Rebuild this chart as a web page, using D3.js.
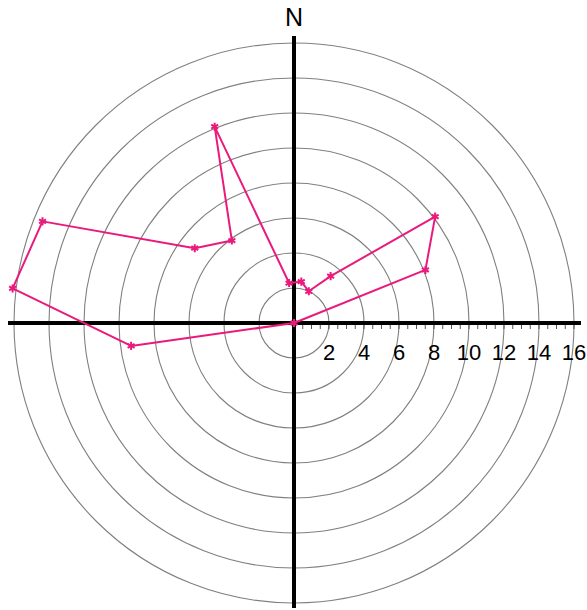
<!DOCTYPE html>
<html>
<head>
<meta charset="utf-8">
<script src="https://cdn.jsdelivr.net/npm/d3@7"></script>
<style>
  body { margin: 0; background: #fff; }
  svg { display: block; }
</style>
</head>
<body>
<svg width="587" height="610"></svg>
<script>
// compass bearing (degrees from N, clockwise) and distance of each point, in path order
var bearings = [0, 68, 53, 38, 25, 10, 353, 338, 323, 307, 292, 277, 262, 0];
var distances = [0, 8.1, 10.1, 3.4, 2.0, 2.4, 2.3, 12.1, 5.9, 7.1, 15.5, 16.2, 9.4, 0];
var rings = [2, 4, 6, 8, 10, 12, 14, 16];
var tickLabels = ["2", "4", "6", "8", "10", "12", "14", "16"];

var svg = d3.select("svg"),
    cx = 294,
    cy = 323;

var r = d3.scaleLinear()
    .domain([0, 16])
    .range([0, 280]);

var g = svg.append("g")
    .attr("transform", "translate(" + cx + "," + cy + ")");

// range rings
g.selectAll("circle.ring")
    .data(rings)
    .enter().append("circle")
    .attr("class", "ring")
    .attr("r", function(d) { return r(d); })
    .attr("fill", "none")
    .attr("stroke", "#808080")
    .attr("stroke-width", 1.1);

// minor ticks along the east axis
var ticks = d3.range(0.5, 16.01, 0.5);
g.selectAll("line.tick")
    .data(ticks)
    .enter().append("line")
    .attr("class", "tick")
    .attr("x1", function(d) { return r(d); })
    .attr("x2", function(d) { return r(d); })
    .attr("y1", 0)
    .attr("y2", 6)
    .attr("stroke", "#555")
    .attr("stroke-width", 1);

// axes
g.append("line")
    .attr("x1", -286).attr("x2", 287)
    .attr("y1", 0).attr("y2", 0)
    .attr("stroke", "#000")
    .attr("stroke-width", 4);
g.append("line")
    .attr("x1", 0).attr("x2", 0)
    .attr("y1", -287).attr("y2", 285)
    .attr("stroke", "#000")
    .attr("stroke-width", 4);

// ring labels
g.selectAll("text.lbl")
    .data(rings)
    .enter().append("text")
    .attr("class", "lbl")
    .attr("x", function(d) { return r(d); })
    .attr("y", 37)
    .attr("text-anchor", "middle")
    .attr("font-family", "Liberation Sans, Arial, sans-serif")
    .attr("font-size", 22)
    .text(function(d, i) { return tickLabels[i]; });

svg.append("text")
    .attr("x", cx)
    .attr("y", 26)
    .attr("text-anchor", "middle")
    .attr("font-family", "Liberation Sans, Arial, sans-serif")
    .attr("font-size", 25)
    .text("N");

// path of points
var pts = bearings.map(function(b, i) {
    var a = b * Math.PI / 180;
    return [r(distances[i]) * Math.sin(a), -r(distances[i]) * Math.cos(a)];
});

var pink = "#ea1a7c";

g.append("path")
    .datum(pts)
    .attr("d", d3.line())
    .attr("fill", "none")
    .attr("stroke", pink)
    .attr("stroke-width", 2)
    .attr("stroke-linejoin", "round");

g.selectAll("path.mark")
    .data(pts.slice(0, pts.length - 1))
    .enter().append("path")
    .attr("class", "mark")
    .attr("transform", function(d) { return "translate(" + d[0] + "," + d[1] + ")"; })
    .attr("d", d3.symbol().type(d3.symbolAsterisk).size(45))
    .attr("fill", "none")
    .attr("stroke", pink)
    .attr("stroke-width", 2);
</script>
</body>
</html>
